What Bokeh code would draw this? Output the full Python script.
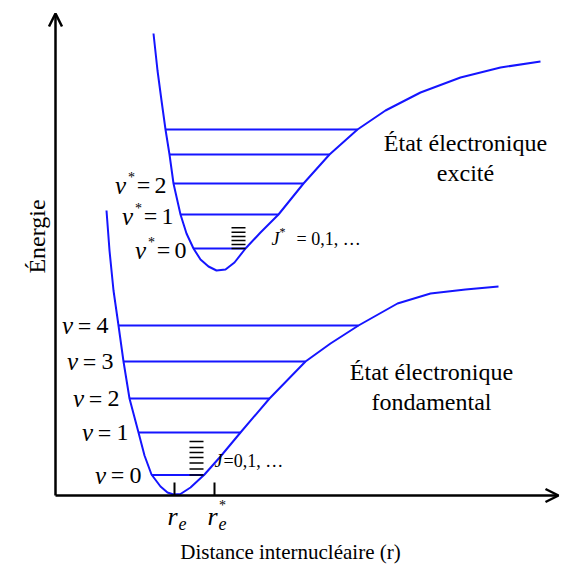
from bokeh.plotting import figure
from bokeh.models import Range1d, Arrow, OpenHead
from bokeh.core.properties import value
from bokeh.embed import file_html
from bokeh.resources import INLINE

# ---- data (r: internuclear distance, E: energy; arbitrary units) ----
ground_r = [51, 54, 58, 63, 68, 74, 83, 89, 96, 105, 112, 118, 125, 135, 149, 165, 185, 214, 250, 275, 303, 342, 375, 410, 443]
ground_E = [285, 245, 205, 170, 134, 97, 63, 40, 21, 9, 3, 1, 1.5, 8, 21, 39, 63, 97, 134, 152, 170, 192, 202, 206, 209]

excited_r = [98, 102, 106, 110, 114, 118, 125, 131, 138, 145, 153, 161, 170, 179, 190, 205, 223, 248, 274, 302, 330, 365, 405, 445, 485]
excited_E = [462, 425, 395, 366, 341, 312, 281, 262, 247, 236, 229, 225, 226, 233, 247, 263, 281, 312, 341, 366, 385, 403, 418, 428, 434]

ground_levels_E = [20.5, 63, 97, 134, 170]
ground_levels_rmin = [96, 83, 74, 68, 63]
ground_levels_rmax = [149, 185, 214, 250, 303]
ground_labels = ["0", "1", "2", "3", "4"]

excited_levels_E = [247, 281, 312, 341, 366]
excited_levels_rmin = [138, 125, 118, 114, 110]
excited_levels_rmax = [190, 223, 248, 274, 302]
excited_labels = ["0", "1", "2"]

rot_ground_dE = [0, 6, 12, 17.5, 22.5, 27.5, 33.5]
rot_ground_r = [134, 148]
rot_excited_dE = [0, 4, 8, 12, 16.3, 20.7]
rot_excited_r = [176, 190]

r_e = 119
r_e_star = 159
axis_r_max = 503
axis_E_max = 482

BLUE = "#1515ff"
SERIF = value("Liberation Serif")

p = figure(width=567, height=569, x_range=Range1d(-55, 512), y_range=Range1d(-74, 495),
           output_backend="svg", toolbar_location=None, min_border=0,
           x_axis_type=None, y_axis_type=None)
p.grid.visible = False
p.outline_line_color = None
p.background_fill_color = "white"
p.border_fill_color = "white"

# potential curves
p.line(ground_r, ground_E, line_color=BLUE, line_width=2)
p.line(excited_r, excited_E, line_color=BLUE, line_width=2)

# vibrational levels
p.segment(x0=ground_levels_rmin, y0=ground_levels_E, x1=ground_levels_rmax, y1=ground_levels_E,
          line_color=BLUE, line_width=2)
p.segment(x0=excited_levels_rmin, y0=excited_levels_E, x1=excited_levels_rmax, y1=excited_levels_E,
          line_color=BLUE, line_width=2)

# rotational ladders
gE = [ground_levels_E[0] + d for d in rot_ground_dE]
p.segment(x0=[rot_ground_r[0]] * len(gE), y0=gE, x1=[rot_ground_r[1]] * len(gE), y1=gE,
          line_color="black", line_width=1.6)
eE = [excited_levels_E[0] + d for d in rot_excited_dE]
p.segment(x0=[rot_excited_r[0]] * len(eE), y0=eE, x1=[rot_excited_r[1]] * len(eE), y1=eE,
          line_color="black", line_width=1.4)

# axes with arrows
p.add_layout(Arrow(end=OpenHead(size=13, line_width=2.5, line_color="black"),
                   x_start=0, y_start=0, x_end=0, y_end=axis_E_max,
                   line_width=2.5, line_color="black"))
p.add_layout(Arrow(end=OpenHead(size=13, line_width=2.5, line_color="black"),
                   x_start=0, y_start=0, x_end=axis_r_max, y_end=0,
                   line_width=2.5, line_color="black"))

# ticks r_e, r_e*
p.segment(x0=[r_e, r_e_star], y0=[0, 0], x1=[r_e, r_e_star], y1=[13, 13],
          line_color="black", line_width=2)

def txt(x, y, s, size, style="normal", align="center", angle=0.0):
    p.text(x=[x], y=[y], text=[s], text_font=SERIF, text_font_size=f"{size}px",
           text_font_style=style, text_align=align, text_baseline="middle",
           text_color="black", angle=angle)

# vibrational labels, ground
for i, lab in enumerate(ground_labels):
    R = ground_levels_rmin[i] - 8
    y = ground_levels_E[i]
    txt(R - 8, y, lab, 24)
    txt(R - 26, y, "=", 24)
    txt(R - 43, y, "v", 25, "italic")

# vibrational labels, excited
for i, lab in enumerate(excited_labels):
    R = excited_levels_rmin[i] - 6
    y = excited_levels_E[i] - 1.5
    txt(R - 7, y, lab, 24)
    txt(R - 24, y, "=", 24)
    txt(R - 36, y + 8, "*", 14)
    txt(R - 47, y, "v", 25, "italic")

# rotational labels
txt(rot_ground_r[1] + 11, 35, "J", 18, "italic", "left")
txt(rot_ground_r[1] + 20, 35, "=0,1, …", 18, "normal", "left")
txt(rot_excited_r[1] + 26, 257, "J", 18, "italic", "left")
txt(rot_excited_r[1] + 34, 264, "*", 12, "normal", "left")
txt(rot_excited_r[1] + 51, 257, "= 0,1, …", 18, "normal", "left")

# r_e labels
txt(r_e - 2, -21, "r", 26, "italic")
txt(r_e + 8, -28, "e", 18, "italic")
txt(r_e_star - 2, -21, "r", 26, "italic")
txt(r_e_star + 8, -28, "e", 18, "italic")
txt(r_e_star + 8, -10, "*", 14)

# state labels
txt(410, 353, "État électronique", 24)
txt(410, 323, "excité", 24)
txt(376, 124, "État électronique", 24)
txt(376, 94, "fondamental", 24)

# axis titles
txt(235, -56, "Distance internucléaire (r)", 21)
txt(-19, 259, "Énergie", 24, angle=1.5707963)

open("out.html", "w").write(file_html(p, INLINE))
